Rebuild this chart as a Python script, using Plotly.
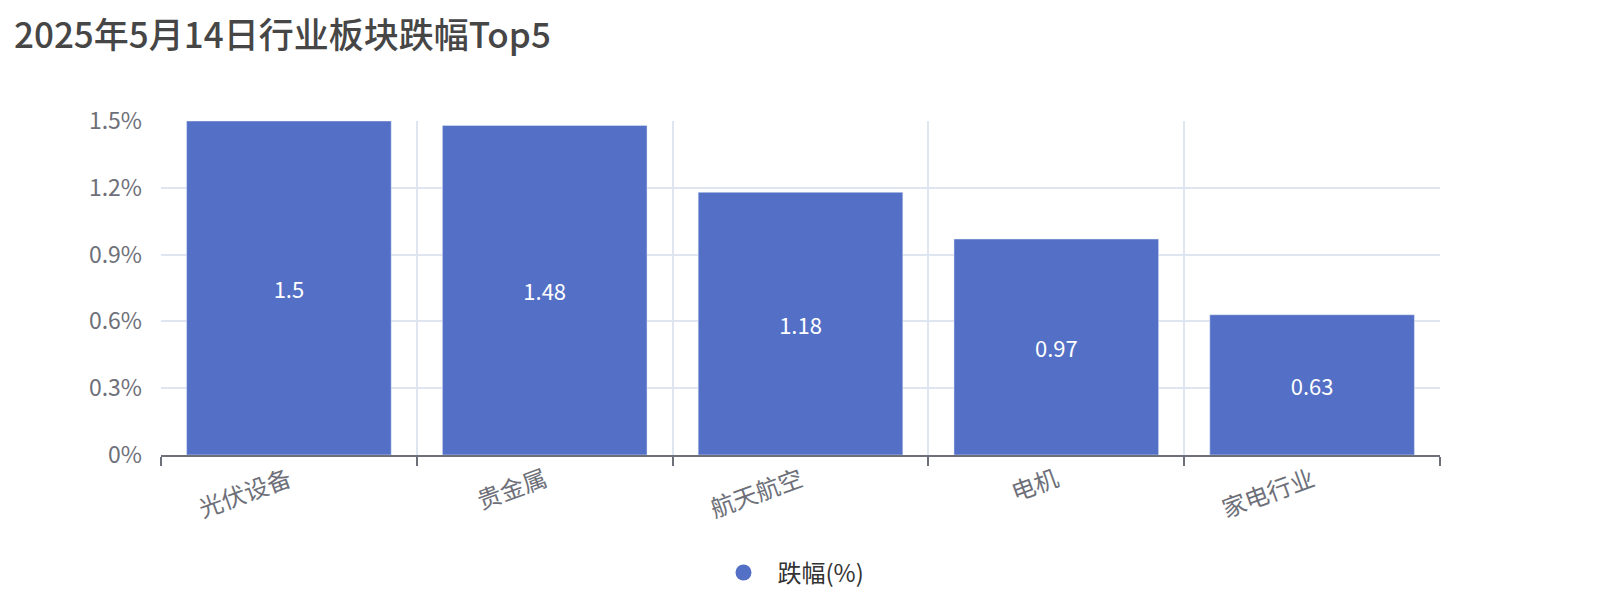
import plotly.graph_objects as go

# 2025-05-14 sector decliners, top 5
sectors = ["光伏设备", "贵金属", "航天航空", "电机", "家电行业"]
drop_pct = [1.5, 1.48, 1.18, 0.97, 0.63]
y_ticks = [0, 0.3, 0.6, 0.9, 1.2, 1.5]
y_tick_labels = ["0%", "0.3%", "0.6%", "0.9%", "1.2%", "1.5%"]
series_name = "跌幅(%)"

BAR = "#5470C6"
AXIS = "#6E7079"
GRID = "#E0E6F1"
FONT = "Noto Sans CJK SC"

fig = go.Figure()
fig.add_trace(go.Bar(
    x=sectors,
    y=drop_pct,
    marker=dict(color=BAR),
    text=[str(v) for v in drop_pct],
    textposition="inside",
    insidetextanchor="middle",
    textangle=0,
    textfont=dict(color="white", size=22, family=FONT),
    showlegend=False,
    name=series_name,
))
# dummy trace so the legend shows a round marker
fig.add_trace(go.Scatter(
    x=[None], y=[None], mode="markers",
    marker=dict(symbol="circle", size=17, color=BAR),
    name=series_name,
))

fig.update_layout(
    width=1600,
    height=600,
    paper_bgcolor="white",
    plot_bgcolor="white",
    font=dict(family=FONT, color=AXIS),
    margin=dict(l=153, r=168, t=113, b=147),
    bargap=0.2,
    title=dict(
        text="2025年5月14日行业板块跌幅Top5",
        font=dict(size=35, color="#464646", family=FONT, weight=500),
        xref="container", yref="container",
        x=6 / 1600, y=1 - 28 / 600,
        xanchor="left", yanchor="middle",
    ),
    legend=dict(
        orientation="h",
        x=0.4914, xanchor="center",
        y=-0.353, yanchor="middle",
        font=dict(size=24, color="#333333", family=FONT),
        itemwidth=58,
    ),
)
fig.update_xaxes(
    type="category",
    range=[-0.5, 4.5],
    tickson="boundaries",
    showgrid=True, gridcolor=GRID, gridwidth=1.5,
    showline=True, linecolor=AXIS, linewidth=2,
    ticks="outside", tickcolor=AXIS, ticklen=9, tickwidth=2,
    tickangle=-20,
    tickfont=dict(size=24, color=AXIS, family=FONT),
)
fig.update_yaxes(
    range=[0, 1.5],
    tickvals=y_ticks,
    ticktext=y_tick_labels,
    showgrid=True, gridcolor=GRID, gridwidth=1.5,
    zeroline=False,
    showline=False,
    ticks="", ticklabelstandoff=18,
    tickfont=dict(size=23, color=AXIS, family=FONT),
)

fig.write_html("out.html")
